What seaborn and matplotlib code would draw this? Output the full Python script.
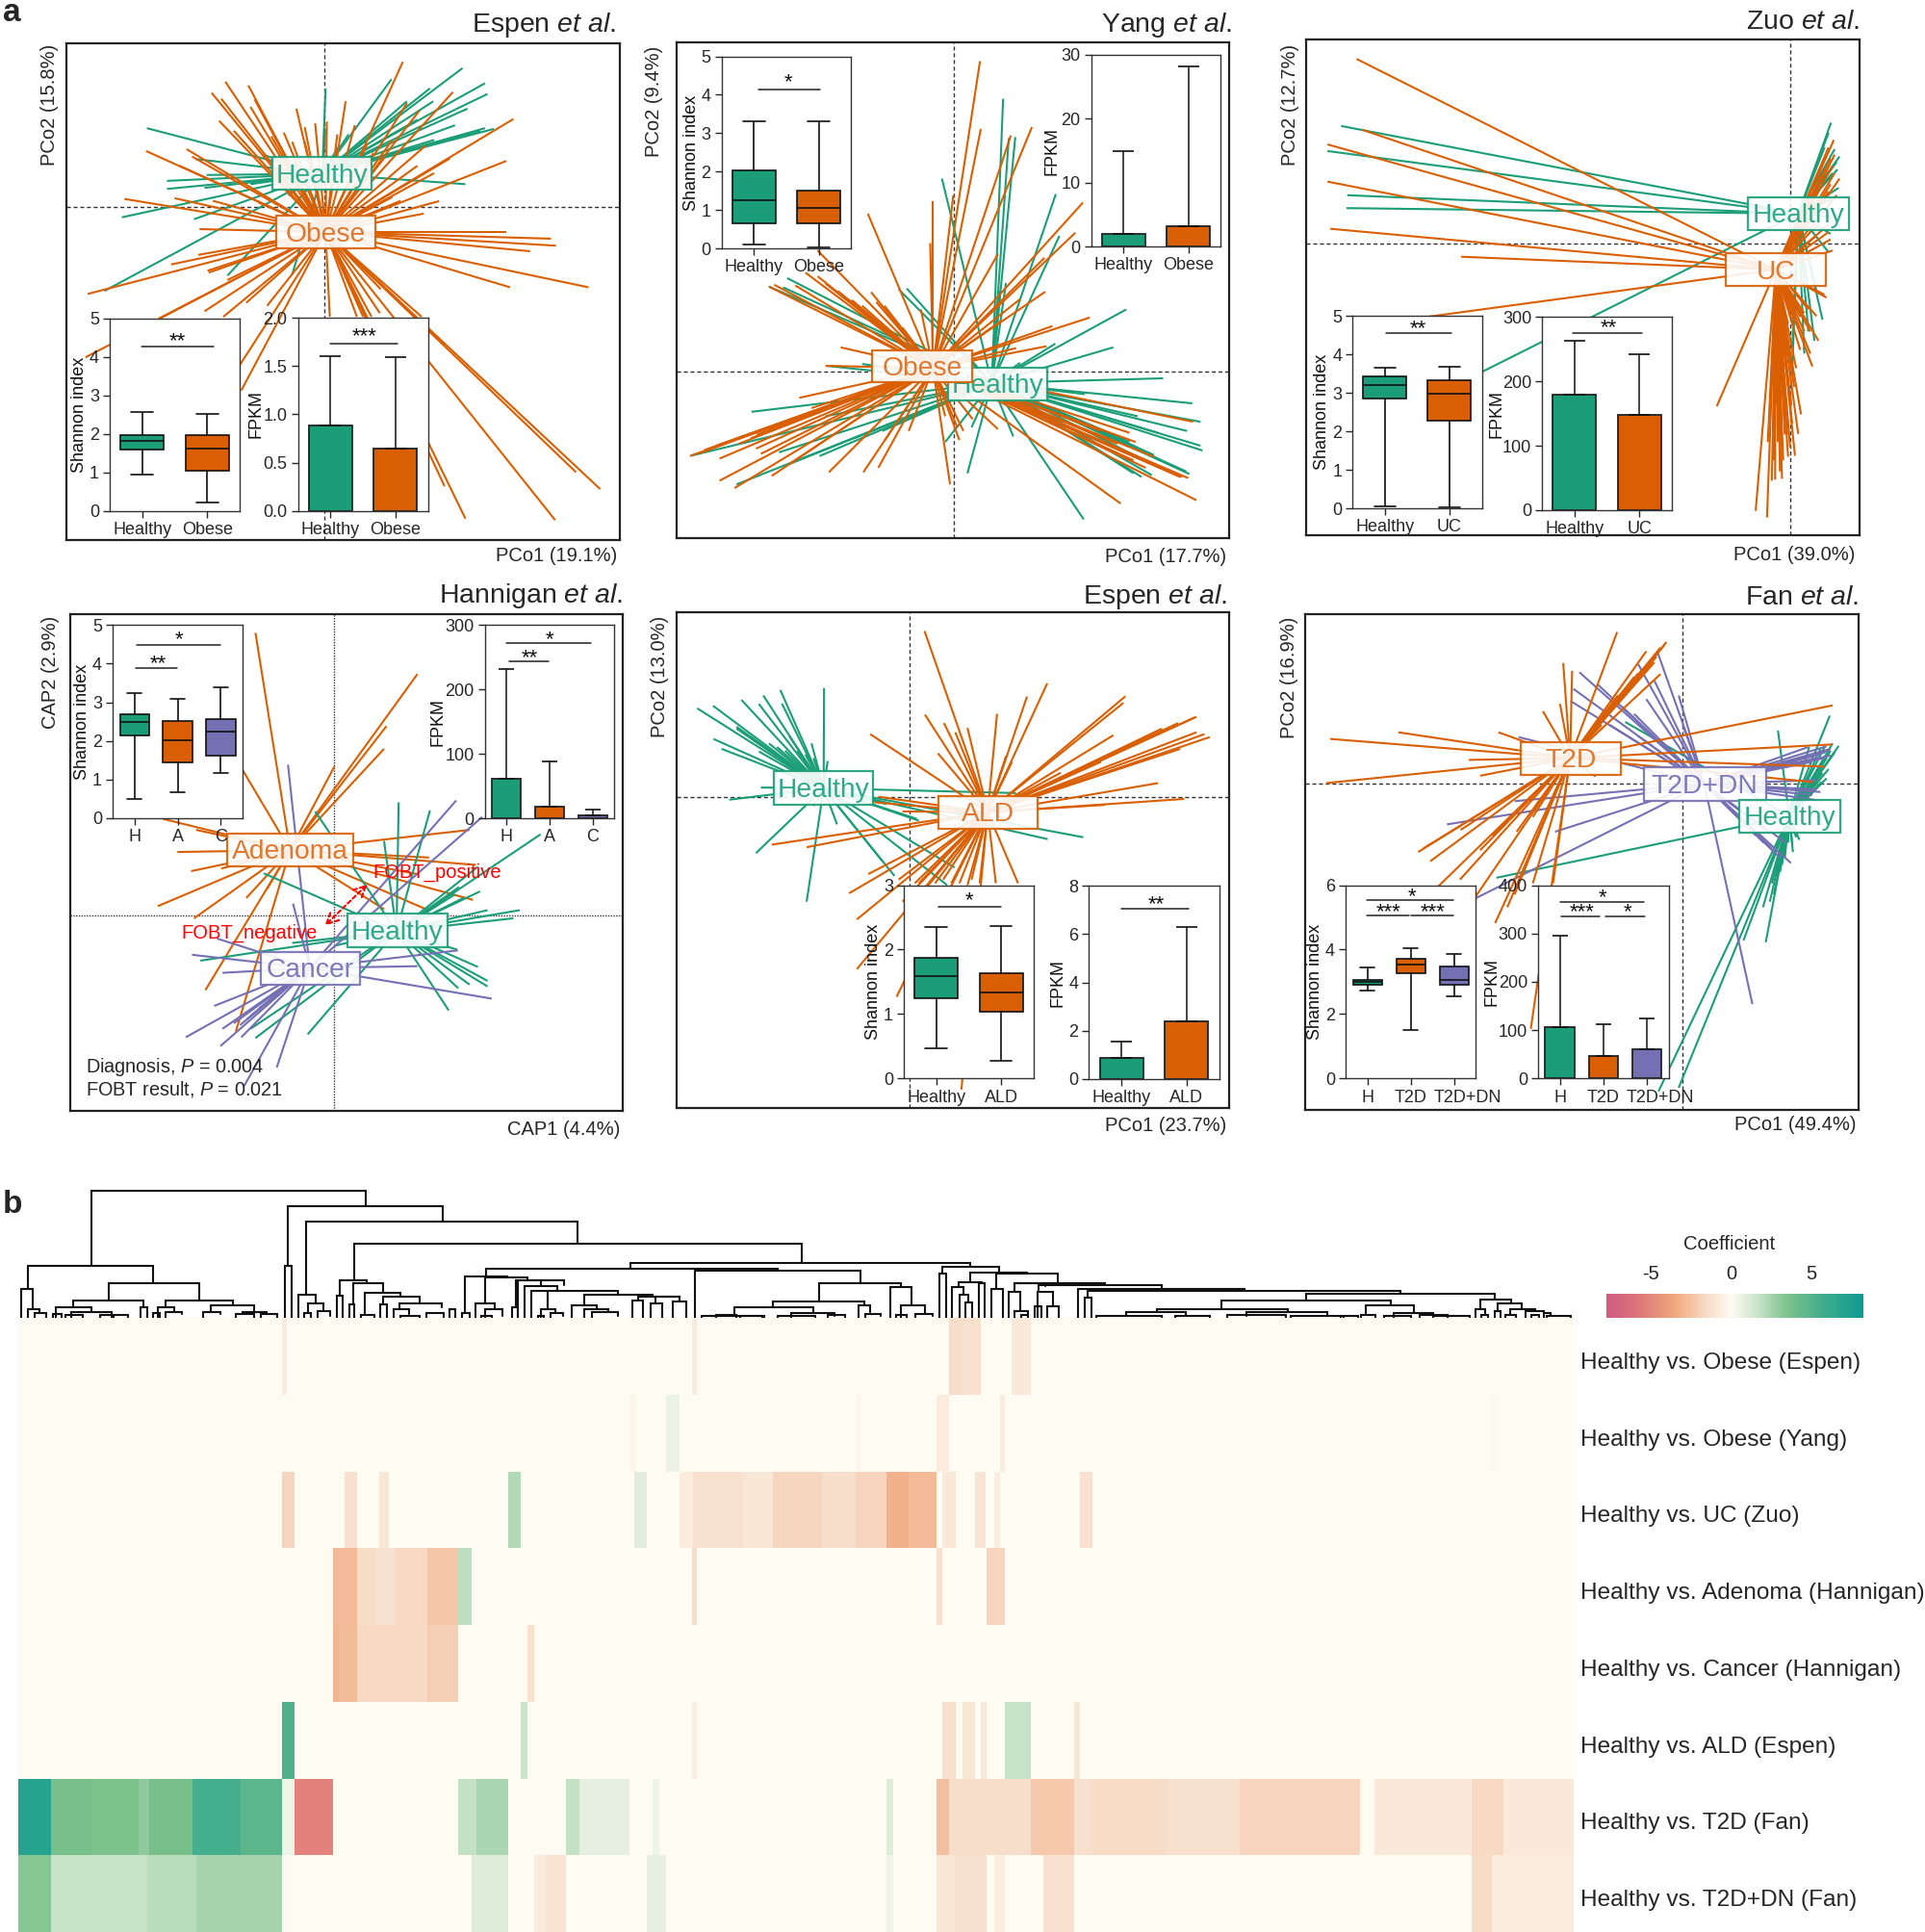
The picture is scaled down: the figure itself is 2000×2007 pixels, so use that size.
import matplotlib
matplotlib.use('Agg')
import matplotlib.pyplot as plt
import numpy as np
import pandas as pd
import seaborn as sns
from matplotlib.colors import LinearSegmentedColormap
from matplotlib.patches import Rectangle
from matplotlib.transforms import ScaledTranslation

sns.set_style('ticks')
plt.rcParams['font.family'] = ['Liberation Sans', 'DejaVu Sans']
plt.rcParams['mathtext.fontset'] = 'custom'
plt.rcParams['mathtext.rm'] = 'Liberation Sans'
plt.rcParams['mathtext.it'] = 'Liberation Sans:italic'
plt.rcParams['axes.unicode_minus'] = False

GREEN, ORANGE, PURPLE = '#1B9E77', '#D95F02', '#7570B3'
GREEN_TXT, ORANGE_TXT, PURPLE_TXT = '#2FA98B', '#E0782F', '#7F7ABA'

# spoke tips, in digitized picture units of each panel
espen1_healthy = [(352,348),(400,491),(400,513),(490,510),(470,432),(292,590),(465,595),(250,790),(545,748),(700,745),
                  (780,240),(810,400),(835,365),(938,215),(1108,185),(1030,240),(1162,226),(1168,255),(1120,295),(1038,275),
                  (1162,348),(1183,350),(1115,500),(780,350),(630,420),(495,475),(690,530),(600,500),(975,275),(1000,325),
                  (1090,340),(1010,400),(1040,380),(1150,355),(1130,360),(1100,370),(1070,380),(1050,385)]
espen1_obese = [(965,168),(1085,250),(1230,323),(1213,437),(1052,546),(1078,430),(1020,395),(1005,300),(975,280),(940,380),
                (895,415),(828,275),(808,365),(783,330),(755,335),(730,345),(710,295),(730,385),(700,385),(650,370),
                (540,222),(507,252),(595,232),(530,268),(610,270),(525,328),(560,355),(350,410),(447,405),(460,425),
                (430,450),(298,540),(418,538),(510,545),(620,550),(478,622),(475,692),(410,718),(500,740),(497,735),
                (210,798),(545,760),(490,845),(590,822),(640,830),(205,970),(380,865),(535,860),(575,990),(578,1060),
                (1065,1320),(1115,1408),(1330,1412),(1380,1282),(1438,1328),(1410,780),(1222,780),(1270,682),(1332,667),
                (1320,648),(1212,630),(912,785),(1010,860),(1065,935),(790,860),(855,860),(870,860),(890,860),(910,850),
                (940,535),(1015,580),(960,545),(600,290),(640,330),(680,360),(850,340),(880,390),(920,430),(1000,450),(1040,470)]
yang_healthy = [(908,268),(938,372),(922,375),(757,485),(1038,527),(1047,640),(900,790),(915,768),(670,783),(650,785),
                (375,755),(330,778),(365,780),(1212,840),(1180,943),(1037,933),(950,985),(470,993),(560,988),(1303,1027),
                (1375,1095),(1395,1145),(1362,1170),(1395,1210),(1400,1223),(1368,1287),(1275,1290),(1280,1235),(1250,1295),
                (1240,1130),(1110,1070),(1290,1175),(1107,1410),(933,1185),(820,1285),(765,1200),(830,1160),(287,1118),
                (138,1237),(250,1315),(355,1228),(455,1238),(540,1190),(610,1170),(470,1130),(380,1260),
                (1270,1235),(1260,1230),(1240,1215),(1220,1200),(1200,1190),(1180,1180),(1290,1245),(1275,1260),(1230,1285),(1360,1280)]
yang_obese = [(851,166),(853,350),(735,545),(728,660),(785,530),(574,580),(927,368),(979,345),(895,690),(1105,550),
              (1086,632),(1010,700),(1012,792),(950,812),(905,870),(1122,862),(1030,885),(1015,940),(940,945),(450,680),
              (420,740),(343,773),(330,778),(395,775),(535,815),(582,793),(595,820),(615,830),(705,840),(660,890),
              (507,943),(470,993),(405,1080),(135,1238),(208,1245),(298,1218),(310,1232),(380,1260),(208,1305),(245,1325),
              (337,1292),(478,1282),(563,1282),(600,1270),(616,1195),(675,1170),(777,1315),(800,1195),(810,1170),(833,1138),
              (795,1160),(765,1130),(895,1165),(1377,1145),(1198,1367),(1385,1358),(1365,1298),(1345,1295),(1230,1250),
              (1235,1200),(1220,1175),(1300,1270),(1280,1240),(170,1222),(200,1210),(240,1195),(255,1205),(285,1190),(160,1230),
              (300,1180),(435,1108),(380,1140),(330,1165),(1350,1295),(1340,1290),(1255,1250),(1260,1270),(1240,1240),(1190,1205),
              (1150,1170),(450,750),(500,790),(530,815),(560,830),(470,770)]
zuo_healthy = [(127,342),(93,410),(142,530),(140,565),(1336,333),(1330,360),(1345,405),(1357,425),(1352,460),(1355,510),
               (1335,635),(1330,685),(1240,1010),(1315,868),(1295,925),(1270,960),(1240,950),(1340,590),(470,1012),(1300,790),
               (1280,900),(1340,540),(1320,400),(1350,440),(1340,470)]
zuo_uc = [(165,160),(178,352),(93,392),(93,493),(100,621),(423,697),(300,866),(1343,380),(1345,420),(1357,485),
          (1350,530),(1330,630),(1300,640),(1335,650),(1340,680),(1325,808),(1300,858),(1305,925),(1290,995),(1285,960),
          (1054,1103),(1150,1387),(1178,1405),(1190,1305),(1198,1302),(1210,1280),(1218,1250),(1247,1237),(1235,1215),
          (1255,1178),(1262,1125),(1180,1200),(1240,1150),(1225,1120),(1200,1100),(1215,1050),(1240,1000),(1260,950),
          (1320,800),(1330,610),(1310,600),(1330,400),(1335,430),(1325,420),(1340,450),(1320,460),(1345,470),(1335,500),
          (1310,480),(1330,520),(1300,520),(1290,530),(1320,540),(1205,1200),(1212,1150),(1220,1100),(1228,1180),(1232,1060),
          (1195,1250),(1208,1050),(1250,1000),(1238,1100),(1245,1050),(1230,1240),(1222,1180),(1215,1300),(1200,1000),(1225,950),
          (1210,900),(1230,880),(1240,870),(1250,880),(1270,900),(1285,900),(1260,860),(1270,850),(1280,840)]
hannigan_healthy = [(755,635),(955,610),(1030,632),(920,715),(1295,697),(1145,785),(1150,852),(1110,870),(1168,903),(1245,903),
                    (1230,925),(1095,1010),(1145,1057),(1168,1095),(1168,1110),(1125,1105),(1075,1175),(1098,1115),(632,803),
                    (480,1040),(700,992),(612,1250),(737,1240),(600,1225),(800,1000),(880,1000),(1100,840),(1090,860)]
hannigan_adenoma = [(612,150),(1000,262),(926,403),(920,465),(801,513),(580,520),(390,655),(470,685),(425,745),(458,797),
                    (378,892),(465,925),(530,790),(590,870),(640,845),(492,1120),(565,1232),(1133,875),(1030,905),(1125,685),
                    (1028,760),(1140,780),(1000,805),(920,900)]
hannigan_cancer = [(690,508),(1093,605),(1155,650),(702,885),(520,980),(460,1024),(533,1073),(513,1163),(445,1248),(528,1272),
                   (533,1225),(578,1248),(575,1215),(585,1380),(663,1330),(1178,1143),(1097,1012),(1000,1055),
                   (590,1200),(600,1190),(620,1170),(630,1150),(560,1210),(650,1140)]
espen2_healthy = [(153,355),(192,348),(262,332),(316,320),(358,305),(466,300),(193,438),(213,465),(250,410),(305,343),
                  (362,342),(305,472),(350,460),(435,450),(475,498),(232,603),(310,570),(298,748),(423,880),(440,620),
                  (498,670),(640,810),(610,770),(788,787),(770,835),(700,660),(695,655),(940,585),(1018,710),(1106,705),(620,615),
                  (250,405),(290,440),(330,450),(380,430),(370,470),(400,470),(420,480),(440,490)]
espen2_ald = [(714,145),(715,372),(580,425),(747,477),(762,395),(790,420),(820,408),(893,370),(967,323),(1017,287),
              (915,485),(930,500),(1210,322),(1205,340),(1180,428),(1385,378),(1380,380),(1385,420),(1405,425),(1418,433),
              (1345,465),(1290,558),(1355,601),(1160,617),(337,725),(423,732),(575,805),(528,857),(547,928),(547,1063),
              (645,1138),(660,880),(590,610),(600,595),(660,635),(805,1390),(945,830),(890,830),(850,830),(820,835),
              (780,830),(700,830),(800,830),(1340,395),(1300,410),(1250,440),(1230,450),(1100,520),(1050,530),(1150,500),
              (830,820),(760,820),(740,830),(720,840),(690,830),(650,820)]
fan_healthy = [(828,392),(1333,375),(1205,415),(1355,457),(1345,475),(1330,520),(1325,545),(1312,555),(1282,460),(1310,465),
               (1242,745),(1258,712),(1175,990),(1120,985),(1168,895),(1185,880),(1195,860),(1205,795),(510,815),(910,1395),
               (960,1385),(1240,600),(1340,450),(1335,470),(1325,490),(1320,510),(1315,530),(1300,540),(1295,560),(1285,580),
               (1270,590),(1320,460),(1210,800),(1200,810),(1190,830),(1215,780),(1222,760),(1230,720),(1250,705),(1240,720)]
fan_t2d = [(808,148),(930,175),(925,183),(915,190),(905,215),(880,200),(895,235),(915,262),(860,260),(697,253),
           (675,232),(667,343),(625,363),(1340,347),(1338,453),(1320,513),(1290,555),(515,420),(268,420),(100,438),
           (442,495),(90,558),(470,538),(755,540),(317,745),(347,770),(422,685),(365,840),(420,820),(450,880),
           (507,938),(537,895),(555,860),(595,1225),(650,830),(600,830),(900,230),(870,250),(850,270),(830,300),(810,320),
           (790,360),(770,400),(330,735),(470,740),(500,700),(560,690),(600,650)]
fan_dn = [(565,433),(715,257),(700,302),(693,335),(860,235),(907,200),(1142,1158),(1237,775),(1210,760),(1310,582),
          (1305,605),(1335,483),(1335,465),(1325,458),(555,607),(388,670),(655,690),(460,870),(1225,720),(1280,460),(1300,550),
          (1330,470),(1320,475),(1310,480),(1300,490),(1290,500),(1320,490),(1250,500),(1300,575),(1290,590),(1200,750),(1190,735),
          (1170,720),(1150,700),(1180,690),(960,320),(970,400),(900,280),(880,330),(850,370),(820,350),(760,290),(790,400),(860,430)]

# five number summaries (min, q1, median, q3, max) and bar height / upper error
shannon_espen1 = {'Healthy': [0.95,1.6,1.82,1.96,2.56], 'Obese': [0.22,1.04,1.63,1.96,2.51]}
fpkm_espen1 = {'Healthy': [0.89,1.6], 'Obese': [0.65,1.59]}
shannon_yang = {'Healthy': [0.1,0.65,1.27,2.03,3.3], 'Obese': [0.04,0.67,1.07,1.51,3.32]}
fpkm_yang = {'Healthy': [2.0,15], 'Obese': [3.2,28.1]}
shannon_zuo = {'Healthy': [0.06,2.86,3.2,3.42,3.66], 'UC': [0.02,2.28,2.99,3.32,3.69]}
fpkm_zuo = {'Healthy': [180,263], 'UC': [148,242]}
shannon_hannigan = {'H': [0.49,2.13,2.48,2.7,3.25], 'A': [0.68,1.44,2.02,2.52,3.09], 'C': [1.17,1.61,2.23,2.56,3.4]}
fpkm_hannigan = {'H': [62,232], 'A': [18,88], 'C': [5,14]}
shannon_espen2 = {'Healthy': [0.47,1.24,1.59,1.88,2.35], 'ALD': [0.27,1.04,1.33,1.63,2.37]}
fpkm_espen2 = {'Healthy': [0.85,1.56], 'ALD': [2.4,6.3]}
shannon_fan = {'H': [2.73,2.91,3.0,3.07,3.45], 'T2D': [1.5,3.26,3.55,3.71,4.03], 'T2D+DN': [2.55,2.91,3.06,3.49,3.87]}
fpkm_fan = {'H': [107,296], 'T2D': [47,113], 'T2D+DN': [60,125]}

# heatmap: runs of (first column, last column, coefficient), column = picture unit
row_labels = ['Healthy vs. Obese (Espen)', 'Healthy vs. Obese (Yang)', 'Healthy vs. UC (Zuo)', 'Healthy vs. Adenoma (Hannigan)',
              'Healthy vs. Cancer (Hannigan)', 'Healthy vs. ALD (Espen)', 'Healthy vs. T2D (Fan)', 'Healthy vs. T2D+DN (Fan)']
runs_espen = [(230,234,-.8),(564,568,-.8),(773,785,-1.4),(785,799,-1.2),(824,840,-.9)]
runs_yang = [(514,518,-.3),(543,554,.6),(698,701,-.3),(763,773,-.7),(815,819,-.7),(1215,1219,.1)]
runs_zuo = [(230,240,-1.8),(281,291,-1.3),(309,317,-1.0),(414,424,2.2),(517,527,.9),(554,565,-.7),(565,605,-1.2),(605,630,-1.0),
            (630,670,-1.7),(670,697,-1.4),(697,722,-1.8),(722,740,-3.1),(740,763,-2.8),(768,779,-.9),(794,803,-1.1),(810,815,-.7),(880,890,-1.2)]
runs_adenoma = [(271,291,-2.8),(291,306,-1.5),(306,322,-1.2),(322,348,-1.6),(348,373,-2.3),(373,384,1.9),(564,568,-1.5),(763,768,-1.3),(804,819,-1.8)]
runs_cancer = [(271,276,-3),(276,291,-2.7),(291,348,-1.6),(348,373,-2.0),(430,435,-1.2)]
runs_ald = [(230,240,5.3),(424,430,1.6),(564,568,-.6),(768,779,-1.3),(784,794,-1.0),(799,804,-.9),(819,840,1.7),(875,880,-1.0)]
runs_t2d = [(15,42,7),(42,75,3.7),(75,113,3.5),(113,122,3.0),(122,157,3.7),(157,196,5.6),(196,230,4.8),(230,240,.5),(240,271,-5.2),(373,388,1.8),(388,414,2.4),
            (461,472,1.8),(472,513,.8),(532,537,.5),(722,728,1.0),(763,773,-2.6),(773,840,-1.4),(840,875,-2.2),(875,890,-1.3),(890,950,-1.5),
            (950,1010,-1.3),(1010,1108,-1.8),(1120,1199,-.9),(1199,1225,-1.6),(1225,1282,-.9)]
runs_dn = [(15,42,3.3),(42,120,1.7),(120,160,2.0),(160,230,2.5),(384,414,1),(435,445,-.8),(445,461,-1.1),(527,543,.7),(722,728,.5),
           (763,778,-1.0),(778,804,-1.3),(810,819,-.6),(850,875,-1.2),(1199,1215,-1.5),(1215,1282,-.7)]
heat_runs = [runs_espen, runs_yang, runs_zuo, runs_adenoma, runs_cancer, runs_ald, runs_t2d, runs_dn]

# dendrogram links (left x, right x, top, left foot, right foot), one list per crop read
links_left = [(265,1065,50,285,100),(838,1288,100,285,147),(890,1680,147,375,215),(1030,2332,215,330,277),(80,445,285,358,340),
              (62,95,358,447,420),(315,580,340,392,392),(212,418,392,415,415),(162,265,415,447,428),(207,325,428,447,435),
              (482,677,392,415,408),(458,507,415,447,430),(613,738,408,430,428),(705,775,428,436,436),(80,115,420,447,432),
              (100,135,432,447,447),(410,428,415,447,447),(445,465,432,447,447),(482,530,430,447,435),(590,640,430,447,435),
              (685,740,436,447,447),(760,805,435,447,447),(155,178,435,447,447),(190,240,437,447,447),(290,325,437,447,447),
              (330,372,437,447,447),(830,848,285,447,447),(868,918,375,447,403),(895,940,403,433,425),(885,905,433,447,447),
              (925,960,425,447,442),(988,1068,330,378,340),(980,998,378,447,447),(1027,1115,340,405,368),(1015,1030,405,447,447),
              (1062,1165,368,435,378),(1050,1090,437,447,447),(1115,1222,380,405,402),(1107,1125,405,447,447),(1162,1285,402,420,415),
              (1145,1190,420,447,435),(1165,1220,440,447,447),(1240,1290,432,447,447),(1308,1325,420,447,447),(1415,2022,293,317,294),
              (1353,1475,317,432,322),(1345,1365,432,447,447),(1410,1535,322,402,330),(1382,1440,402,447,420),(1410,1462,420,447,442),
              (1400,1430,442,447,447),(1490,1505,415,447,447),(1500,1640,330,415,345)]
links_mid = [(322,1310,97,115,108),(510,750,115,120,120),(-5,62,150,267,167),(15,108,167,267,183),(33,285,184,267,195),(80,80,184,240,240),
             (62,103,240,267,252),(90,125,252,267,262),(52,70,262,267,267),(187,385,195,228,200),(150,225,228,267,240),(187,258,240,267,250),
             (210,285,250,267,262),(328,357,212,267,267),(345,465,200,212,217),(380,415,222,267,267),(395,465,200,222,217),(445,483,217,267,267),
             (510,990,120,267,160),(870,1110,160,217,172),(735,1003,217,235,228),(623,853,235,262,250),(530,705,262,267,267),(570,630,258,267,267),
             (640,710,262,267,267),(750,860,262,267,267),(790,915,253,267,262),(895,945,258,267,267),(985,1020,228,267,250),(1005,1050,255,267,262),
             (1077,1140,172,267,227),(1110,1180,227,267,255),(1095,1125,257,267,267),(1150,1200,255,267,262),(1230,1393,108,130,127),(1222,1240,130,267,267),
             (1310,1475,127,155,130),(1278,1345,155,172,160),(1258,1292,172,267,195),(1280,1305,195,267,218),(1295,1315,218,267,267),(1335,1352,160,267,267),
             (1385,1565,130,177,160),(1372,1405,177,267,267),(1440,1530,160,187,168),(1423,1455,187,267,245),(1440,1478,245,267,257),(1460,1478,257,267,267),
             (1507,1550,185,267,232),(1497,1517,232,267,267),(1535,1568,230,267,267)]
links_right = [(-130,133,160,170,165),(-60,300,165,180,178),(55,540,178,267,183),(85,995,183,205,193),(75,95,205,267,267),(720,1268,193,210,210),
               (472,965,212,240,225),(285,665,240,250,250),(195,370,250,262,262),(545,780,250,262,262),(110,300,262,267,267),(340,440,262,267,267),
               (490,660,258,267,267),(675,830,260,267,267),(820,870,262,267,267),(892,1033,227,258,250),(878,920,258,267,267),(975,1090,252,267,258),
               (945,1025,262,267,267),(1050,1130,258,267,267),(1090,1195,262,267,267),(1225,1315,210,240,220),(1213,1240,240,267,257),(1230,1250,257,267,267),
               (1277,1348,222,245,240),(1268,1285,245,267,267),(1312,1385,240,257,245),(1300,1330,258,267,267),(1358,1410,245,267,250),(1375,1398,258,267,267),
               (1410,1430,252,267,258),(1420,1490,262,267,267)]

panels = [
    dict(title='Espen', crop=(0,0,1568/680,1568/600), frame=(160,1485,118,1465), origin=(778,561), ls=(0,(3,2)),
         groups=[(espen1_healthy,(772,472),GREEN),(espen1_obese,(780,630),ORANGE)],
         boxes=[('Healthy',652,890,427,516,GREEN,GREEN_TXT),('Obese',662,900,586,675,ORANGE,ORANGE_TXT)],
         xlabel=('PCo1 (19.1%)',1478,1510), ylabel=('PCo2 (15.8%)',118,285), tpos=(1475,67),
         shannon=(shannon_espen1,(263,574,865,1387),5,[0,1,2,3,4,5],-.17),
         fpkm=(fpkm_espen1,(714,1025,863,1387),2,[0,.5,1,1.5,2],-.26,'%.1f'),
         sig=[(338,513,942,'**',425,917),(790,952,933,'***',872,905)]),
    dict(title='Yang', crop=(660,0,1568/660,1568/600), frame=(102,1467,115,1462), origin=(786,1008), ls=(0,(3,2)),
         groups=[(yang_healthy,(880,1040),GREEN),(yang_obese,(735,1000),ORANGE)],
         boxes=[('Healthy',772,1016,998,1087,GREEN,GREEN_TXT),('Obese',585,832,950,1038,ORANGE,ORANGE_TXT)],
         xlabel=('PCo1 (17.7%)',1460,1513), ylabel=('PCo2 (9.4%)',47,275), tpos=(1472,67),
         shannon=(shannon_yang,(213,533,153,675),5,[0,1,2,3,4,5],-.17),
         fpkm=(fpkm_yang,(1125,1445,148,670),30,[0,10,20,30],-.24,'%d'),
         sig=[(303,456,242,'*',378,215)]),
    dict(title='Zuo', crop=(1340,0,1568/660,1568/600), frame=(41,1407,108,1454), origin=(1235,660), ls=(0,(3,2)),
         groups=[(zuo_healthy,(1255,580),GREEN),(zuo_uc,(1200,732),ORANGE)],
         boxes=[('Healthy',1132,1380,535,625,GREEN,GREEN_TXT),('UC',1077,1324,688,777,ORANGE,ORANGE_TXT)],
         xlabel=('PCo1 (39.0%)',1395,1507), ylabel=('PCo2 (12.7%)',2,285), tpos=(1408,60),
         shannon=(shannon_zuo,(155,474,858,1380),5,[0,1,2,3,4,5],-.17),
         fpkm=(fpkm_zuo,(623,943,861,1385),300,[0,100,200,300],-.29,'%d'),
         sig=[(238,400,903,'**',316,882),(698,870,904,'**',787,880)]),
    dict(title='Hannigan', crop=(0,600,1568/680,1568/600), frame=(168,1492,100,1447), origin=(801,918), ls=(0,(1,1)),
         groups=[(hannigan_adenoma,(695,740),ORANGE),(hannigan_healthy,(950,960),GREEN),(hannigan_cancer,(742,1060),PURPLE)],
         boxes=[('Adenoma',545,847,695,785,ORANGE,ORANGE_TXT),('Healthy',832,1072,913,1003,GREEN,GREEN_TXT),('Cancer',624,862,1016,1105,PURPLE,PURPLE_TXT)],
         xlabel=('CAP1 (4.4%)',1487,1498), ylabel=('CAP2 (2.9%)',120,258), tpos=(1493,50),
         shannon=(shannon_hannigan,(270,581,129,653),5,[0,1,2,3,4,5],-.17),
         fpkm=(fpkm_hannigan,(1162,1472,129,654),300,[0,100,200,300],-.30,'%d'),
         sig=[(327,527,182,'*',428,160),(324,424,245,'**',378,225),(1214,1415,177,'*',1316,158),(1219,1314,227,'**',1270,208)]),
    dict(title='Espen', crop=(660,600,1568/660,1568/600), frame=(102,1467,95,1440), origin=(676,595), ls=(0,(3,2)),
         groups=[(espen2_healthy,(465,572),GREEN),(espen2_ald,(870,637),ORANGE)],
         boxes=[('Healthy',341,587,526,616,GREEN,GREEN_TXT),('ALD',748,994,592,682,ORANGE,ORANGE_TXT)],
         xlabel=('PCo1 (23.7%)',1460,1488), ylabel=('PCo2 (13.0%)',60,270), tpos=(1462,52),
         shannon=(shannon_espen2,(663,983,835,1360),3,[0,1,2,3],-.17),
         fpkm=(fpkm_espen2,(1120,1441,837,1361),8,[0,2,4,6,8],-.175,'%d'),
         sig=[(749,903,893,'*',825,868),(1199,1366,899,'**',1285,877)]),
    dict(title='Fan', crop=(1340,600,1568/660,1568/600), frame=(39,1404,98,1444), origin=(969,559), ls=(0,(3,2)),
         groups=[(fan_healthy,(1233,648),GREEN),(fan_dn,(1023,560),PURPLE),(fan_t2d,(692,490),ORANGE)],
         boxes=[('T2D',571,817,446,536,ORANGE,ORANGE_TXT),('T2D+DN',874,1175,515,605,PURPLE,PURPLE_TXT),('Healthy',1110,1358,603,692,GREEN,GREEN_TXT)],
         xlabel=('PCo1 (49.4%)',1397,1485), ylabel=('PCo2 (16.9%)',-2,272), tpos=(1405,55),
         shannon=(shannon_fan,(138,459,835,1360),6,[0,2,4,6],-.17),
         fpkm=(fpkm_fan,(613,935,835,1360),400,[0,100,200,300,400],-.29,'%d'),
         sig=[(190,405,875,'*',302,857),(190,294,917,'***',243,898),(300,404,917,'***',354,898),
              (668,875,880,'*',773,860),(670,766,919,'***',721,898),(780,876,919,'*',834,898)]),
]

palette = {'Healthy': GREEN, 'H': GREEN, 'Obese': ORANGE, 'UC': ORANGE, 'A': ORANGE, 'ALD': ORANGE, 'T2D': ORANGE, 'C': PURPLE, 'T2D+DN': PURPLE}


def add_px_axes(fig, x0, x1, y0, y1, **kw):
    return fig.add_axes([x0/2000, 1-y1/2007, (x1-x0)/2000, (y1-y0)/2007], **kw)


def style_inset(ax, ylim, yticks, fmt, labelx, ylabel):
    ax.set_xlim(-.5, len(ax.get_xticks())-.5)
    ax.set_ylim(0, ylim)
    ax.set_yticks(yticks)
    ax.set_yticklabels([fmt % t for t in yticks])
    ax.set_xlabel('')
    ax.set_ylabel(ylabel, fontsize=13, color='#111111')
    ax.yaxis.set_label_coords(labelx, .5)
    ax.tick_params(labelsize=13, length=5, width=1, pad=3)
    for s in ax.spines.values():
        s.set_visible(True)
        s.set_linewidth(1)
        s.set_color('#333333')
    # the long T2D+DN label sits to the right of its tick
    for lab in ax.get_xticklabels():
        if lab.get_text() == 'T2D+DN':
            lab.set_transform(lab.get_transform()+ScaledTranslation(.14, 0, ax.figure.dpi_scale_trans))


def draw_shannon(ax, stats):
    df = pd.DataFrame([(g, v) for g, vals in stats.items() for v in vals], columns=['group', 'value'])
    sns.boxplot(data=df, x='group', y='value', hue='group', palette=palette, whis=(0, 100), width=.67, saturation=1,
                linecolor='#111111', linewidth=1.2, fliersize=0, legend=False, ax=ax)


def draw_fpkm(ax, stats, capsize):
    names = list(stats)
    means = [stats[g][0] for g in names]
    tops = [stats[g][1] for g in names]
    sns.barplot(x=names, y=means, hue=names, palette=palette, saturation=1, width=.67, errorbar=None, legend=False,
                edgecolor='#222222', linewidth=1.3, ax=ax)
    for i, (m, t) in enumerate(zip(means, tops)):
        ax.errorbar(i, m, yerr=[[0], [t-m]], color='#111111', capsize=capsize, elinewidth=1.1, capthick=1.2, zorder=1)


fig = plt.figure(figsize=(20, 20.07), dpi=100)

for p in panels:
    ox, oy, fx, fy = p['crop']
    to_x = lambda v: ox+v/fx
    to_y = lambda v: oy+v/fy
    fl, fr, ft, fb = p['frame']
    ax = add_px_axes(fig, to_x(fl), to_x(fr), to_y(ft), to_y(fb), zorder=1)
    ax.set_xlim(fl, fr)
    ax.set_ylim(fb, ft)
    ax.set_xticks([])
    ax.set_yticks([])
    for s in ax.spines.values():
        s.set_linewidth(1.6)
        s.set_color('#222222')
    ax.axhline(p['origin'][1], color='#333333', lw=1, ls=p['ls'], zorder=1)
    ax.axvline(p['origin'][0], color='#333333', lw=1, ls=p['ls'], zorder=1)
    for tips, centre, colour in p['groups']:
        for tx, ty in tips:
            ax.plot([centre[0], tx], [centre[1], ty], color=colour, lw=1.5, solid_capstyle='butt', zorder=2)
    for k, (name, x0, x1, y0, y1, edge, txt) in enumerate(p['boxes']):
        ax.add_patch(Rectangle((x0, y0), x1-x0, y1-y0, fc='white', ec=edge, lw=1.6, alpha=.9, zorder=3+k))
        ax.text((x0+x1)/2, (y0+y1)/2+6, name, color=txt, fontsize=20.3, ha='center', va='center', zorder=3+k)

    stats, (x0, x1, y0, y1), ylim, yticks, lx = p['shannon']
    ins = add_px_axes(fig, to_x(x0), to_x(x1), to_y(y0), to_y(y1), zorder=2)
    draw_shannon(ins, stats)
    style_inset(ins, ylim, yticks, '%d', lx, 'Shannon index')

    stats, (x0, x1, y0, y1), ylim, yticks, lx, fmt = p['fpkm']
    ins = add_px_axes(fig, to_x(x0), to_x(x1), to_y(y0), to_y(y1), zorder=2)
    draw_fpkm(ins, stats, 8 if len(stats) == 2 else 5.5)
    style_inset(ins, ylim, yticks, fmt, lx, 'FPKM')

    over = add_px_axes(fig, to_x(fl), to_x(fr), to_y(ft), to_y(fb), zorder=3)
    over.set_xlim(fl, fr)
    over.set_ylim(fb, ft)
    over.axis('off')
    for a, b, y, stars, sx, sy in p['sig']:
        over.plot([a, b], [y, y], color='#222222', lw=1.1)
        over.text(sx, sy+10, stars, fontsize=16, ha='center', va='center', color='#111111')
    name, xr, y = p['xlabel']
    over.text(xr, y, name, fontsize=14.5, ha='right', va='center', clip_on=False)
    name, x, y = p['ylabel']
    over.text(x, y, name, fontsize=14.5, rotation=90, ha='center', va='center', clip_on=False)
    over.text(p['tpos'][0], p['tpos'][1], p['title']+r' $\mathit{et\ al}$.', fontsize=20.5, ha='right', va='center', clip_on=False)
    if p['title'] == 'Hannigan':
        over.text(893, 800, 'FOBT_positive', color='#FF0000', fontsize=14.5, va='center')
        over.text(435, 965, 'FOBT_negative', color='#FF0000', fontsize=14.5, va='center')
        over.annotate('', xy=(778, 945), xytext=(880, 833),
                      arrowprops=dict(arrowstyle='<->', color='#FF0000', lw=1.5, ls=(0, (2, 1.5)), mutation_scale=22, shrinkA=0, shrinkB=0))
        over.text(205, 1328, r'Diagnosis, $\mathit{P}$ = 0.004', fontsize=14.3, va='center')
        over.text(205, 1390, r'FOBT result, $\mathit{P}$ = 0.021', fontsize=14.3, va='center')

# panel b
cmap = LinearSegmentedColormap.from_list('coef', [
    (0, '#CF5C80'), ((-6+7.76)/16, '#DC727A'), ((-3.5+7.76)/16, '#EFA87C'), ((-1.5+7.76)/16, '#F7DCC8'),
    (7.76/16, '#FEFBF2'), ((1.5+7.76)/16, '#CFE6CF'), ((3.5+7.76)/16, '#7DC28C'), ((6+7.76)/16, '#3BAA8C'), (1, '#0E9A93')], N=256)

matrix = np.zeros((8, 1267))
for r, runs in enumerate(heat_runs):
    for a, b, v in runs:
        matrix[r, a-15:b-15] = v

hax = add_px_axes(fig, 19, 1635, 1369, 2007)
cax = add_px_axes(fig, 1669, 1936, 1344, 1369)
sns.heatmap(matrix, cmap=cmap, vmin=-7.76, vmax=8.24, xticklabels=False, yticklabels=row_labels, ax=hax, cbar_ax=cax,
            cbar_kws=dict(orientation='horizontal', ticks=[-5, 0, 5]), rasterized=True)
hax.yaxis.tick_right()
hax.tick_params(axis='y', length=0, labelsize=17.6, rotation=0, pad=5)
for lab in hax.get_yticklabels():
    lab.set_transform(lab.get_transform()+ScaledTranslation(0, -.045, fig.dpi_scale_trans))
cax.xaxis.set_ticks_position('top')
cax.tick_params(length=0, labelsize=14.5, pad=8)
hax.collections[0].colorbar.outline.set_visible(False)
fig.text(1797/2000, 1-1292/2007, 'Coefficient', fontsize=14.6, ha='center', va='center')

dax = add_px_axes(fig, 0, 1640, 1220, 1369, zorder=0)
dax.set_xlim(0, 1640)
dax.set_ylim(1369, 1220)
dax.axis('off')
for links, xo, yo in [(links_left, 0, 1220), (links_mid, 540, 1280), (links_right, 1100, 1280)]:
    for xl, xr, top, fl_, fr_ in links:
        xs = [xo+xl/2.8, xo+xl/2.8, xo+xr/2.8, xo+xr/2.8]
        ys = [yo+fl_/3, yo+top/3, yo+top/3, yo+fr_/3]
        dax.plot(xs, ys, color='#111111', lw=1.5, solid_joinstyle='miter')

fig.text(3/2000, 1-22/2007, 'a', fontsize=24, fontweight='bold', ha='left', va='baseline')
fig.text(3/2000, 1-1260/2007, 'b', fontsize=24, fontweight='bold', ha='left', va='baseline')

fig.savefig('out.png', dpi=100)
